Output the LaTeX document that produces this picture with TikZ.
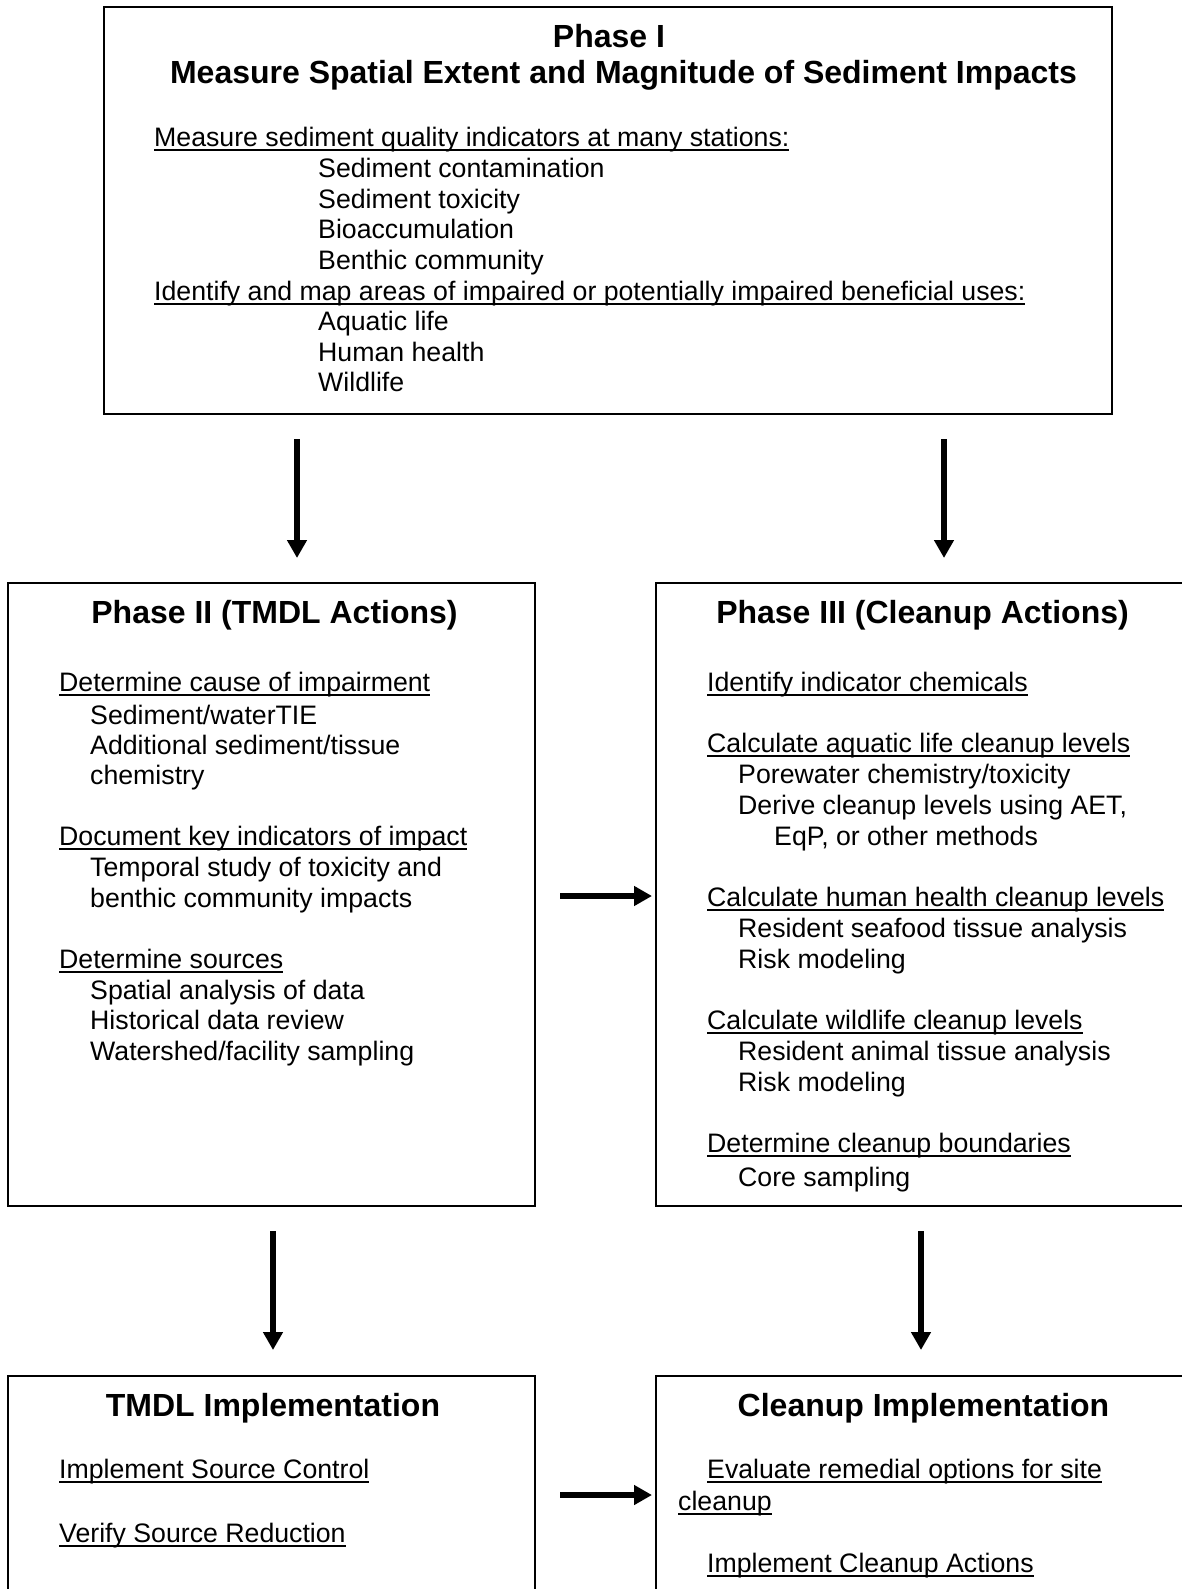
\documentclass[tikz,border=0pt]{standalone}
\usepackage{fontspec}
\setmainfont{Liberation Sans}
\usetikzlibrary{arrows.meta}
\newcommand\ulx[1]{\leavevmode\setbox0\hbox{#1}\rlap{\rule[-4.5pt]{\wd0}{2pt}}\box0}
\begin{document}
\begin{tikzpicture}[x=1pt,y=-1pt,
  frame/.style={draw=black, line width=2pt, inner sep=0pt, outer sep=0pt},
  txt/.style={inner sep=0pt, anchor=base west, font=\fontsize{26.7}{30.7}\selectfont},
  ttl/.style={inner sep=0pt, anchor=base, font=\fontsize{32}{36.8}\selectfont\bfseries},
  bigarrow/.style={line width=5.5pt, -{Triangle[width=19pt,length=18pt]}}]
\useasboundingbox (0,0) rectangle (1182,1589);
\fill[white] (0,0) rectangle (1182,1589);

% boxes
\node[frame, minimum width=1008pt, minimum height=407pt] (p1) at (608,210.5) {};
\node[frame, minimum width=527pt, minimum height=623pt] (p2) at (271.5,894.5) {};
\node[frame, minimum width=530pt, minimum height=623pt] (p3) at (921,894.5) {};
\node[frame, minimum width=527pt, minimum height=264pt] (p4) at (271.5,1508) {};
\node[frame, minimum width=530pt, minimum height=264pt] (p5) at (921,1508) {};

% Phase I
\node[ttl] (t1a) at (609,48) {Phase I};
\node[ttl] (t1b) at (623.5,83.5) {Measure Spatial Extent and Magnitude of Sediment Impacts};
\node[txt] (l1) at (154,147) {\ulx{Measure sediment quality indicators at many stations:}};
\node[txt] (l2) at (318,177.6) {Sediment contamination};
\node[txt] (l3) at (318,208.2) {Sediment toxicity};
\node[txt] (l4) at (318,238.8) {Bioaccumulation};
\node[txt] (l5) at (318,269.4) {Benthic community};
\node[txt] (l6) at (154,300) {\ulx{Identify and map areas of impaired or potentially impaired beneficial uses:}};
\node[txt] (l7) at (318,330.6) {Aquatic life};
\node[txt] (l8) at (318,361.2) {Human health};
\node[txt] (l9) at (318,391.8) {Wildlife};

% Phase II
\node[ttl] (t2) at (274.5,623) {Phase II (TMDL Actions)};
\node[txt] (m1) at (59,691) {\ulx{Determine cause of impairment}};
\node[txt] (m2) at (90,724.5) {Sediment/waterTIE};
\node[txt] (m3) at (90,754.5) {Additional sediment/tissue};
\node[txt] (m4) at (90,784.5) {chemistry};
\node[txt] (m5) at (59,845) {\ulx{Document key indicators of impact}};
\node[txt] (m6) at (90,876.5) {Temporal study of toxicity and};
\node[txt] (m7) at (90,907.3) {benthic community impacts};
\node[txt] (m8) at (59,968.2) {\ulx{Determine sources}};
\node[txt] (m9) at (90,999) {Spatial analysis of data};
\node[txt] (m10) at (90,1029.8) {Historical data review};
\node[txt] (m11) at (90,1060.6) {Watershed/facility sampling};

% Phase III
\node[ttl] (t3) at (922.5,623) {Phase III (Cleanup Actions)};
\node[txt] (n1) at (707,691) {\ulx{Identify indicator chemicals}};
\node[txt] (n2) at (707,752.6) {\ulx{Calculate aquatic life cleanup levels}};
\node[txt] (n3) at (738,783.4) {Porewater chemistry/toxicity};
\node[txt] (n4) at (738,814.2) {Derive cleanup levels using AET,};
\node[txt] (n5) at (774,845) {EqP, or other methods};
\node[txt] (n6) at (707,906.6) {\ulx{Calculate human health cleanup levels}};
\node[txt] (n7) at (738,937.4) {Resident seafood tissue analysis};
\node[txt] (n8) at (738,968.2) {Risk modeling};
\node[txt] (n9) at (707,1029.8) {\ulx{Calculate wildlife cleanup levels}};
\node[txt] (n10) at (738,1060.6) {Resident animal tissue analysis};
\node[txt] (n11) at (738,1091.4) {Risk modeling};
\node[txt] (n12) at (707,1152) {\ulx{Determine cleanup boundaries}};
\node[txt] (n13) at (738,1186) {Core sampling};

% TMDL Implementation
\node[ttl] (t4) at (273,1416) {TMDL Implementation};
\node[txt] (o1) at (59,1478) {\ulx{Implement Source Control}};
\node[txt] (o2) at (59,1542) {\ulx{Verify Source Reduction}};

% Cleanup Implementation
\node[ttl] (t5) at (923.5,1416) {Cleanup Implementation};
\node[txt] (q1) at (707,1478) {\ulx{Evaluate remedial options for site}};
\node[txt] (q2) at (678,1510) {\ulx{cleanup}};
\node[txt] (q3) at (707,1572) {\ulx{Implement Cleanup Actions}};

% arrows
\coordinate (a1s) at (297,439);  \coordinate (a1e) at (297,558);
\coordinate (a2s) at (944,439);  \coordinate (a2e) at (944,558);
\coordinate (a3s) at (273,1231); \coordinate (a3e) at (273,1350);
\coordinate (a4s) at (921,1231); \coordinate (a4e) at (921,1350);
\coordinate (h1s) at (560,896);  \coordinate (h1e) at (652,896);
\coordinate (h2s) at (560,1495); \coordinate (h2e) at (652,1495);
\draw[bigarrow] (a1s) -- (a1e);
\draw[bigarrow] (a2s) -- (a2e);
\draw[bigarrow] (a3s) -- (a3e);
\draw[bigarrow] (a4s) -- (a4e);
\draw[bigarrow] (h1s) -- (h1e);
\draw[bigarrow] (h2s) -- (h2e);
\end{tikzpicture}
\end{document}
